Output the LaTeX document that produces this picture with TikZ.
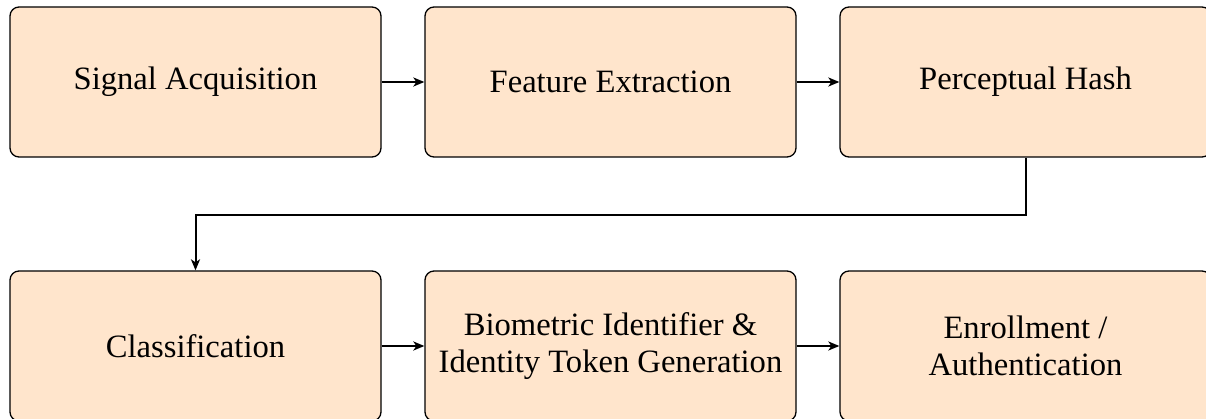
\documentclass[tikz,border=0pt]{standalone}
\usepackage{fontspec}
\setmainfont{Liberation Serif}
\usetikzlibrary{arrows.meta}
\definecolor{boxfill}{RGB}{255,229,204}
\begin{document}
\begin{tikzpicture}[x=1pt,y=-1pt,
  stage/.style={draw=black, line width=1.3pt, fill=boxfill, rounded corners=9pt,
    minimum width=371pt, minimum height=150pt, align=center, inner sep=0pt,
    font=\fontsize{32.6pt}{36.5pt}\selectfont},
  arr/.style={line width=2pt, -{Stealth[length=11pt,width=9pt,inset=3pt]}}]
\useasboundingbox (0,0) rectangle (1206,419);
\node[stage] (sa) at (195.5,82) {Signal Acquisition};
\node[stage] (fe) at (610.5,82) {Feature Extraction};
\node[stage] (ph) at (1025.5,82) {Perceptual Hash};
\node[stage] (cl) at (195.5,346) {Classification};
\node[stage] (bi) at (610.5,346) {Biometric Identifier \&\\Identity Token Generation};
\node[stage] (ea) at (1025.5,346) {Enrollment /\\Authentication};
\coordinate (turn) at (1025.5,215);
\draw[arr] (sa) -- (fe);
\draw[arr] (fe) -- (ph);
\draw[arr] (ph.south) -- (turn) -| (cl.north);
\draw[arr] (cl) -- (bi);
\draw[arr] (bi) -- (ea);
\end{tikzpicture}
\end{document}
